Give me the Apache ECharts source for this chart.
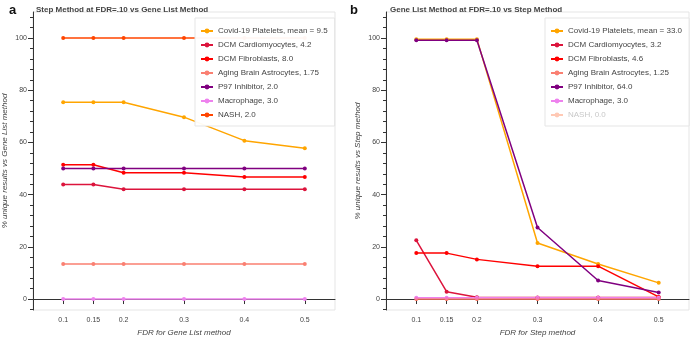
<!DOCTYPE html>
<html>
<head>
<meta charset="utf-8">
<script src="https://cdn.jsdelivr.net/npm/echarts@6/dist/echarts.min.js"></script>
<style>
html, body { margin: 0; padding: 0; background: #fff; }
#chart { width: 700px; height: 342px; }
</style>
</head>
<body>
<div id="chart"></div>
<script>
var chart = echarts.init(document.getElementById('chart'));

// FDR thresholds (x axis)
var fdr = [0.1, 0.15, 0.2, 0.3, 0.4, 0.5];
var yTicks = [0, 20, 40, 60, 80, 100];
var yMinor = [-4, 4, 8, 12, 16, 24, 28, 32, 36, 44, 48, 52, 56, 64, 68, 72, 76, 84, 88, 92, 96, 104, 108];

var colors = ['#ffa500', '#dc143c', '#ff0000', '#fa8072', '#800080', '#ee82ee', '#ff4500'];

// panel a: Step Method at FDR=.10 vs Gene List Method
var namesA = ['Covid-19 Platelets, mean = 9.5', 'DCM Cardiomyocytes, 4.2', 'DCM Fibroblasts, 8.0',
  'Aging Brain Astrocytes, 1.75', 'P97 Inhibitor, 2.0', 'Macrophage, 3.0', 'NASH, 2.0'];
var covidA = [75.4, 75.4, 75.4, 69.7, 60.7, 57.8];
var cardioA = [43.9, 43.9, 42.1, 42.1, 42.1, 42.1];
var fibroA = [51.5, 51.5, 48.4, 48.4, 46.8, 46.8];
var astroA = [13.4, 13.4, 13.4, 13.4, 13.4, 13.4];
var p97A = [50, 50, 50, 50, 50, 50];
var macroA = [0, 0, 0, 0, 0, 0];
var nashA = [100, 100, 100, 100, 100, 100];

// panel b: Gene List Method at FDR=.10 vs Step Method
var namesB = ['Covid-19 Platelets, mean = 33.0', 'DCM Cardiomyocytes, 3.2', 'DCM Fibroblasts, 4.6',
  'Aging Brain Astrocytes, 1.25', 'P97 Inhibitor, 64.0', 'Macrophage, 3.0 ', 'NASH, 0.0'];
var covidB = [99.6, 99.6, 99.6, 21.5, 13.4, 6.2];
var cardioB = [22.5, 2.8, 0.7, 0.6, 0.6, 0.6];
var fibroB = [17.6, 17.6, 15.2, 12.6, 12.6, 0.8];
var astroB = [0, 0, 0, 0, 0, 0];
var p97B = [99.2, 99.2, 99.2, 27.4, 7.1, 2.5];
var macroB = [0.5, 0.5, 0.5, 0.5, 0.5, 0.5];
var nashB = [0, 0, 0, 0, 0, 0];

var valsA = [covidA, cardioA, fibroA, astroA, p97A, macroA, nashA];
var valsB = [covidB, cardioB, fibroB, astroB, p97B, macroB, nashB];

var font = 'Liberation Sans';

function pairs(v) {
  return fdr.map(function(x, i) { return [x, v[i]]; });
}

function makeSeries(names, vals, xi, yi, mutedIdx) {
  return names.map(function(n, i) {
    var op = (i === mutedIdx) ? 0.2 : 1;
    return {
      name: n,
      type: 'line',
      xAxisIndex: xi,
      yAxisIndex: yi,
      data: pairs(vals[i]),
      color: colors[i],
      symbol: 'circle',
      symbolSize: 4,
      lineStyle: { width: 1.5, opacity: op },
      itemStyle: { opacity: op },
      animation: false,
      z: 2
    };
  });
}

function xAx(grid, title) {
  return {
    type: 'value', gridIndex: grid, min: 0.05, max: 0.55,
    name: title, nameLocation: 'middle', nameGap: 19,
    nameTextStyle: { fontFamily: font, fontSize: 8, fontStyle: 'italic', color: '#444' },
    axisLine: { show: true, lineStyle: { color: '#333', width: 1 } },
    axisTick: { show: true, length: 5, customValues: fdr, lineStyle: { color: '#333' } },
    axisLabel: { customValues: fdr, margin: 7, fontFamily: font, fontSize: 7, color: '#444',
      formatter: function(v) { return String(v); } },
    splitLine: { show: false }
  };
}

function yAx(grid, title) {
  return {
    type: 'value', gridIndex: grid, min: -4.2, max: 110, position: 'left',
    name: title, nameLocation: 'middle', nameGap: 24,
    nameTextStyle: { fontFamily: font, fontSize: 8, fontStyle: 'italic', color: '#444' },
    axisLine: { show: true, lineStyle: { color: '#333', width: 1 } },
    axisTick: { show: true, length: 5, customValues: yTicks, lineStyle: { color: '#333' } },
    axisLabel: { customValues: yTicks, margin: 6, fontFamily: font, fontSize: 7, color: '#444' },
    splitLine: { show: false }
  };
}

function yMinorAx(grid) {
  return {
    type: 'value', gridIndex: grid, min: -4.2, max: 110, position: 'left', offset: 0,
    axisLine: { show: false },
    axisTick: { show: true, length: 3, customValues: yMinor, lineStyle: { color: '#333' } },
    axisLabel: { show: false },
    splitLine: { show: false }
  };
}

function legendData(names, mutedIdx) {
  return names.map(function(n, i) {
    if (i !== mutedIdx) return { name: n };
    return {
      name: n,
      textStyle: { color: '#c8c8c8' },
      itemStyle: { color: '#ffc9b5', opacity: 1 },
      lineStyle: { color: '#ffc9b5', opacity: 1 }
    };
  });
}

function legend(left, names, mutedIdx) {
  return {
    orient: 'vertical', left: left, top: 18,
    data: legendData(names, mutedIdx),
    selectedMode: false,
    backgroundColor: 'rgba(255,255,255,0.95)',
    borderColor: '#e5e5e5', borderWidth: 1, borderRadius: 0,
    padding: [9, 7, 7, 5],
    itemWidth: 12, itemHeight: 6, itemGap: 6,
    textStyle: { fontFamily: font, fontSize: 8, color: '#444', height: 8, lineHeight: 8 },
    z: 4
  };
}

var option = {
  backgroundColor: '#fff',
  animation: false,
  title: [
    { text: 'a', left: 4, top: -1, textStyle: { fontFamily: font, fontSize: 13, fontWeight: 'bold', color: '#111' } },
    { text: 'Step Method at FDR=.10 vs Gene List Method', left: 31, top: 1,
      textStyle: { fontFamily: font, fontSize: 8, fontWeight: 'bold', color: '#444' } },
    { text: 'b', left: 345, top: -1, textStyle: { fontFamily: font, fontSize: 13, fontWeight: 'bold', color: '#111' } },
    { text: 'Gene List Method at FDR=.10 vs Step Method', left: 385, top: 1,
      textStyle: { fontFamily: font, fontSize: 8, fontWeight: 'bold', color: '#444' } }
  ],
  grid: [
    { left: 33, top: 12, width: 302, height: 301, show: true, borderColor: '#e5e5e5', borderWidth: 1 },
    { left: 386, top: 12, width: 303, height: 301, show: true, borderColor: '#e5e5e5', borderWidth: 1 }
  ],
  xAxis: [
    xAx(0, 'FDR for Gene List method'),
    xAx(1, 'FDR for Step method')
  ],
  yAxis: [
    yAx(0, '% unique results vs Gene List method'),
    yMinorAx(0),
    yAx(1, '% unique results vs Step method'),
    yMinorAx(1)
  ],
  legend: [
    legend(195, namesA, -1),
    legend(545, namesB, 6)
  ],
  series: makeSeries(namesA, valsA, 0, 0, -1).concat(makeSeries(namesB, valsB, 1, 2, 6))
};

chart.setOption(option);
</script>
</body>
</html>
